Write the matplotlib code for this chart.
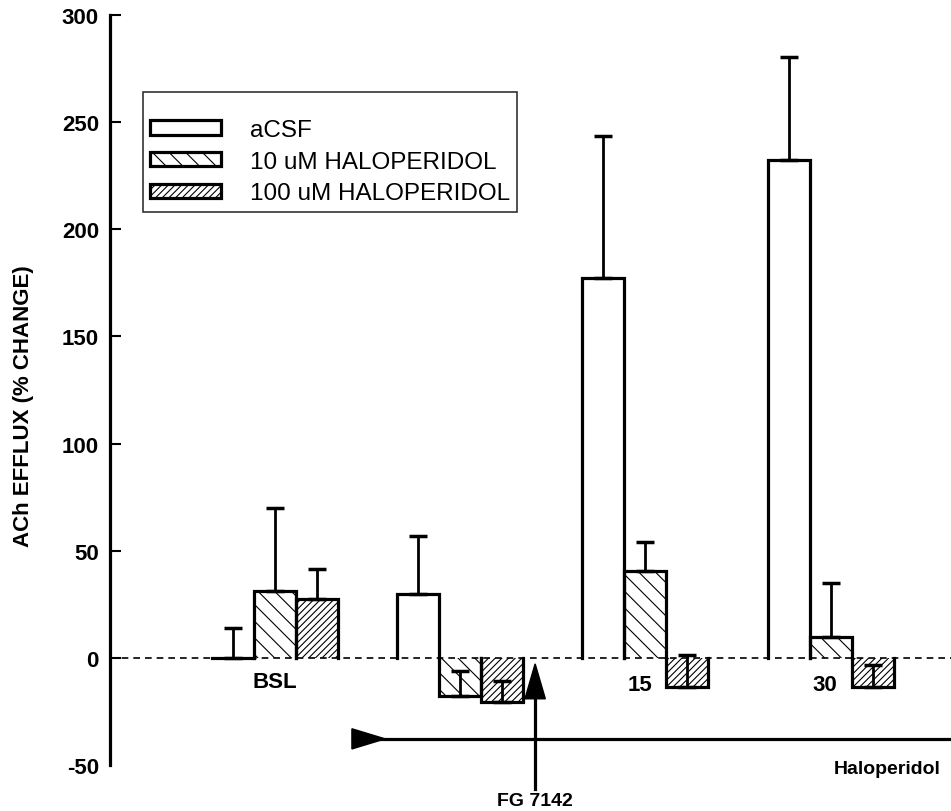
import numpy as np
import matplotlib.pyplot as plt
from matplotlib.patches import Polygon

plt.rcParams['font.family'] = ['Liberation Sans', 'DejaVu Sans']
plt.rcParams['hatch.linewidth'] = 0.8
plt.rcParams['axes.unicode_minus'] = False

groups = ['BSL', '', '15', '30']
series = ['aCSF', '10 uM HALOPERIDOL', '100 uM HALOPERIDOL']
acsf = [0, 30, 177.5, 232.5]
acsf_err = [14, 27, 66, 48]
halo10 = [31, -18, 40.5, 9.8]
halo10_err = [39, 12, 13.5, 25]
halo100 = [27.5, -20.5, -13.5, -13.5]
halo100_err = [14, 9.5, 15, 10]

values = [acsf, halo10, halo100]
errors = [acsf_err, halo10_err, halo100_err]
hatches = ['', '\\\\', '/////']

fig = plt.figure(figsize=(9.51, 8.12), dpi=100)
ax = fig.add_axes([110 / 951, 46 / 812, 1 - 110 / 951, 750 / 812])

x = np.arange(len(groups))
w = 0.227
for i in range(3):
    pos = x + (i - 1) * w
    # fill + hatch, no edge (outline drawn separately, open at zero)
    ax.bar(pos, values[i], w, color='white', edgecolor='black', linewidth=0,
           hatch=hatches[i], label=series[i], zorder=2)
    for p, v in zip(pos, values[i]):
        ax.plot([p - w / 2, p - w / 2, p + w / 2, p + w / 2], [0, v, v, 0],
                color='black', lw=2.3, solid_joinstyle='miter', zorder=3)
    ax.errorbar(pos, values[i], yerr=[np.zeros(4), errors[i]], fmt='none',
                ecolor='black', elinewidth=2.0, capsize=6.5, capthick=2.5, zorder=3)

ax.axhline(0, color='black', lw=1.2, ls=(0, (4, 3)), zorder=4)

ax.set_xlim(-0.89, 3.65)
ax.set_ylim(-50, 300)
ax.set_yticks(range(-50, 301, 50))
ax.set_xticks([])
for s in ['top', 'right', 'bottom']:
    ax.spines[s].set_visible(False)
ax.spines['left'].set_linewidth(2.3)
ax.tick_params(axis='y', direction='in', length=8, width=1.5, labelsize=16, pad=8)
for lab in ax.get_yticklabels():
    lab.set_fontweight('bold')
ax.yaxis.get_major_ticks()[0].tick1line.set_visible(False)
fig.text(24 / 951, 1 - 406 / 812, 'ACh EFFLUX (% CHANGE)', rotation=90,
         ha='center', va='center', fontsize=16, fontweight='bold')

# group labels
for xi, g, dy in zip(x, groups, [-11.2, 0, -12.6, -12.6]):
    if g:
        ax.text(xi - (0.03 if g != 'BSL' else 0), dy, g, ha='center', va='center',
                fontsize=16, fontweight='bold')

# Haloperidol line with triangle
ax.plot([0.42, 3.65], [-37.8, -37.8], color='black', lw=2.3, clip_on=False)
ax.add_patch(Polygon([[0.416, -33.1], [0.416, -42.5], [0.595, -37.8]], closed=True,
                     color='black', clip_on=False))
ax.text(3.595, -51.7, 'Haloperidol', ha='right', va='center', fontsize=14,
        fontweight='bold', clip_on=False)

# FG 7142 arrow
ax.plot([1.405, 1.405], [-61, -19], color='black', lw=2.3, clip_on=False)
ax.add_patch(Polygon([[1.35, -19.1], [1.46, -19.1], [1.405, -2.8]], closed=True,
                     color='black', clip_on=False))
ax.text(1.405, -66.7, 'FG 7142', ha='center', va='center', fontsize=14,
        fontweight='bold', clip_on=False)

leg = ax.legend(loc='upper left', bbox_to_anchor=(143 / 951, 1 - 93 / 812),
                bbox_transform=fig.transFigure, fontsize=17.5, frameon=True,
                fancybox=False, edgecolor='black', handlelength=2.9,
                handleheight=0.55, handletextpad=1.2, labelspacing=0.4,
                borderpad=0.3, borderaxespad=0, title=' ', title_fontsize=8)
leg.get_frame().set_linewidth(1.2)
for h in leg.legend_handles:
    h.set_linewidth(2.3)

fig.savefig('out.png', dpi=100)
